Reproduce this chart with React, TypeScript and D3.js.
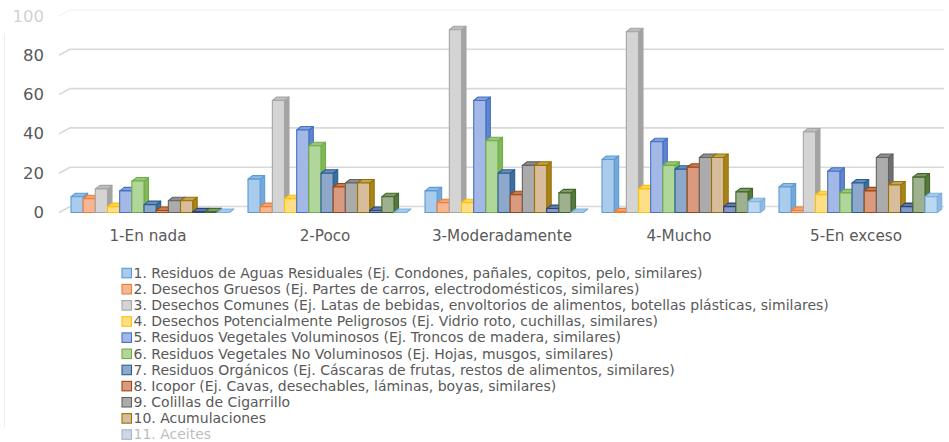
import React from "react";
import * as d3 from "d3";

// Categories along the x axis
const categories = ["1-En nada", "2-Poco", "3-Moderadamente", "4-Mucho", "5-En exceso"];

// Legend labels (rows past the bottom edge are clipped)
const legendLabels = [
  "1. Residuos de Aguas Residuales (Ej. Condones, pañales, copitos, pelo, similares)",
  "2. Desechos Gruesos (Ej. Partes de carros, electrodomésticos, similares)",
  "3. Desechos Comunes (Ej. Latas de bebidas, envoltorios de alimentos, botellas plásticas, similares)",
  "4. Desechos Potencialmente Peligrosos (Ej. Vidrio roto, cuchillas, similares)",
  "5. Residuos Vegetales Voluminosos (Ej. Troncos de madera, similares)",
  "6. Residuos Vegetales No Voluminosos (Ej. Hojas, musgos, similares)",
  "7. Residuos Orgánicos (Ej. Cáscaras de frutas, restos de alimentos, similares)",
  "8. Icopor (Ej. Cavas, desechables, láminas, boyas, similares)",
  "9. Colillas de Cigarrillo",
  "10. Acumulaciones",
  "11. Aceites",
];

// Values per series, one entry per category
const s1 = [8, 17, 11, 27, 13];
const s2 = [7, 3, 5, 0.3, 1];
const s3 = [12, 57, 93, 92, 41];
const s4 = [3, 7, 5, 12, 9];
const s5 = [11, 42, 57, 36, 21];
const s6 = [16, 34, 36.5, 24, 10];
const s7 = [4, 20, 20, 22, 15];
const s8 = [1, 13, 9, 23, 11];
const s9 = [6, 15, 24, 28, 28];
const s10 = [6, 15, 24, 28, 14];
const s11 = [0.3, 1, 2, 3, 3];
const s12 = [0.3, 8, 10, 10.5, 18];
const s13 = [0, 0, 0, 5.5, 8];
const seriesValues = [s1, s2, s3, s4, s5, s6, s7, s8, s9, s10, s11, s12, s13];

// Y axis ticks
const yTicks = [0, 20, 40, 60, 80, 100];

// Face colours per series: front, side, top, outline
const palette = [
  { front: "#A9CBEC", side: "#73A8DB", top: "#8FBBE5", line: "#5B9BD5" },
  { front: "#F6B693", side: "#EE8A4C", top: "#F3A270", line: "#ED7D31" },
  { front: "#D4D4D4", side: "#A3A3A3", top: "#BDBDBD", line: "#A5A5A5" },
  { front: "#FFDF85", side: "#FFC727", top: "#FFD455", line: "#FFC000" },
  { front: "#A3B8E6", side: "#5F86CC", top: "#839FDA", line: "#4472C4" },
  { front: "#B0D69A", side: "#80B75C", top: "#98C77C", line: "#70AD47" },
  { front: "#8DA8CB", side: "#3E6F9C", top: "#6A8CB6", line: "#255E91" },
  { front: "#DA9A7F", side: "#B85E2C", top: "#C97A55", line: "#9E480E" },
  { front: "#ABABAB", side: "#6F6F6F", top: "#8E8E8E", line: "#636363" },
  { front: "#D8BD9C", side: "#A8841E", top: "#C3A260", line: "#997300" },
  { front: "#8798C4", side: "#3A5588", top: "#6478A8", line: "#264478" },
  { front: "#9DB18F", side: "#57793E", top: "#7E9968", line: "#43682B" },
  { front: "#BBD8F3", side: "#8DBAE2", top: "#A5CAEC", line: "#7CAFDD" },
];

const W = 949;
const H = 442;
const DX = 4.5; // bar depth offset
const DY = -3.5;
const GX = 11; // wall depth offset for gridlines
const GY = -6;

export default function App() {
  const x = d3.scaleBand<string>().domain(categories).range([59.5, 944.5]).paddingInner(0).paddingOuter(0);
  const inner = d3
    .scaleBand<number>()
    .domain(d3.range(seriesValues.length))
    .range([11.5, 11.5 + 12.17 * seriesValues.length]);
  const y = d3.scaleLinear().domain([0, 100]).range([212.5, 16]);
  const y0 = y(0);
  const textColor = "#595959";
  const font = "'DejaVu Sans', 'Liberation Sans', sans-serif";

  const bars: React.ReactNode[] = [];
  categories.forEach((cat, ci) => {
    seriesValues.forEach((vals, si) => {
      const c = palette[si];
      const x0 = (x(cat) as number) + (inner(si) as number);
      const w = inner.bandwidth();
      const yt = y(vals[ci]);
      const side = [
        [x0 + w, yt],
        [x0 + w + DX, yt + DY],
        [x0 + w + DX, y0 + DY],
        [x0 + w, y0],
      ];
      const top = [
        [x0, yt],
        [x0 + DX, yt + DY],
        [x0 + w + DX, yt + DY],
        [x0 + w, yt],
      ];
      const pts = (p: number[][]) => p.map((q) => q.join(",")).join(" ");
      bars.push(
        <g key={`${ci}-${si}`} strokeWidth={1.1} stroke={c.line} strokeLinejoin="round">
          <polygon points={pts(side)} fill={c.side} />
          <polygon points={pts(top)} fill={c.top} />
          <rect x={x0} y={yt} width={w} height={Math.max(0, y0 - yt)} fill={c.front} />
        </g>
      );
    });
  });

  return (
    <svg
      width={W}
      height={H}
      style={{ position: "absolute", left: 0, top: 0, background: "#fff" }}
      fontFamily={font}
    >
      <rect x={0} y={0} width={W} height={H} fill="#fff" />
      {/* gridlines drawn on the floor edge and back wall */}
      {yTicks.map((t) => {
        const yy = y(t);
        return (
          <path
            key={t}
            d={`M59,${yy} L${59 + GX},${yy + GY} L944,${yy + GY}`}
            fill="none"
            stroke="#D9D9D9"
            strokeWidth={1.6}
          />
        );
      })}
      {yTicks.map((t) => (
        <text
          key={`l${t}`}
          x={44}
          y={y(t)}
          textAnchor="end"
          dominantBaseline="central"
          fontSize={16.5}
          fill={textColor}
        >
          {t}
        </text>
      ))}
      {bars}
      {categories.map((cat) => (
        <text
          key={cat}
          x={(x(cat) as number) + x.bandwidth() / 2}
          y={236}
          textAnchor="middle"
          dominantBaseline="central"
          fontSize={15.2}
          fill={textColor}
        >
          {cat}
        </text>
      ))}
      {legendLabels.map((label, i) => {
        const cy = 272.8 + i * 16.15;
        const c = palette[i];
        return (
          <g key={label}>
            <rect x={122} y={cy - 4.5} width={9.5} height={9.5} fill={c.front} stroke={c.line} strokeWidth={1.1} />
            <text x={133.5} y={cy} dominantBaseline="central" fontSize={14} fill={textColor}>
              {label}
            </text>
          </g>
        );
      })}
      {/* faded strips along the top and bottom edges */}
      <rect x={0} y={0} width={W} height={25} fill="#fff" opacity={0.72} />
      <rect x={0} y={427} width={W} height={H - 427} fill="#fff" opacity={0.6} />
      <line x1={4.5} y1={33} x2={4.5} y2={427} stroke="#EEEEEE" strokeWidth={1} />
    </svg>
  );
}
